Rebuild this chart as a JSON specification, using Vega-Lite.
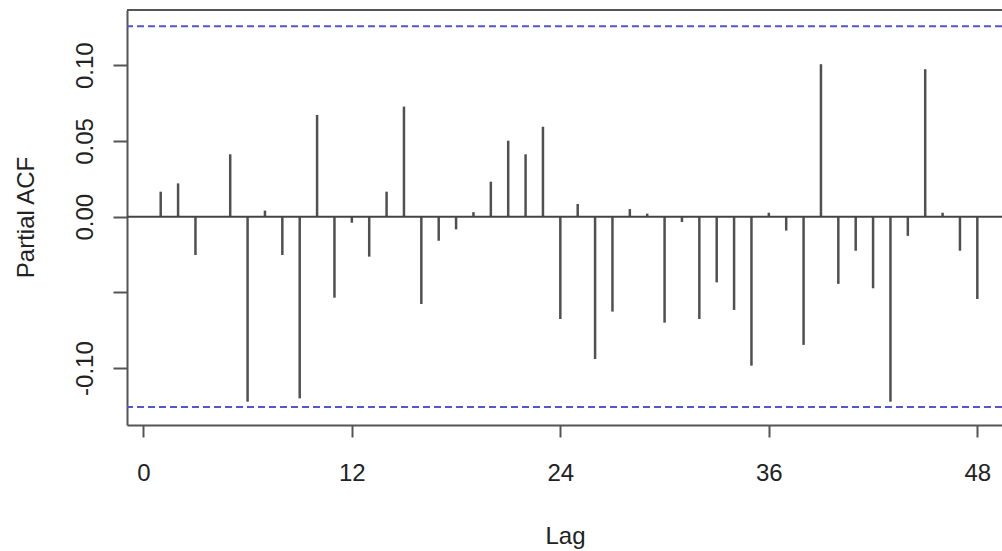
{
  "$schema": "https://vega.github.io/schema/vega-lite/v6.json",
  "width": 875,
  "height": 415,
  "autosize": "none",
  "padding": {"left": 127, "top": 10, "right": 0, "bottom": 126},
  "background": "white",
  "config": {
    "view": {"stroke": null},
    "axis": {
      "grid": false,
      "labelFont": "Liberation Sans",
      "titleFont": "Liberation Sans",
      "labelFontSize": 24,
      "titleFontSize": 24,
      "labelColor": "#222222",
      "titleColor": "#222222",
      "titleFontWeight": "normal",
      "domainColor": "#555555",
      "domainWidth": 2,
      "tickColor": "#555555",
      "tickWidth": 2,
      "labelFlush": false,
      "labelOverlap": false
    }
  },
  "datasets": {
    "pacf": [
      {"lag": 1, "pacf": 0.0165}, {"lag": 2, "pacf": 0.022}, {"lag": 3, "pacf": -0.0253},
      {"lag": 4, "pacf": 0.0}, {"lag": 5, "pacf": 0.0412}, {"lag": 6, "pacf": -0.1222},
      {"lag": 7, "pacf": 0.004}, {"lag": 8, "pacf": -0.0253}, {"lag": 9, "pacf": -0.12},
      {"lag": 10, "pacf": 0.0672}, {"lag": 11, "pacf": -0.0535}, {"lag": 12, "pacf": -0.004},
      {"lag": 13, "pacf": -0.0264}, {"lag": 14, "pacf": 0.0165}, {"lag": 15, "pacf": 0.0727},
      {"lag": 16, "pacf": -0.0577}, {"lag": 17, "pacf": -0.0159}, {"lag": 18, "pacf": -0.0084},
      {"lag": 19, "pacf": 0.003}, {"lag": 20, "pacf": 0.0231}, {"lag": 21, "pacf": 0.0502},
      {"lag": 22, "pacf": 0.0412}, {"lag": 23, "pacf": 0.0594}, {"lag": 24, "pacf": -0.0676},
      {"lag": 25, "pacf": 0.0084}, {"lag": 26, "pacf": -0.094}, {"lag": 27, "pacf": -0.0627},
      {"lag": 28, "pacf": 0.005}, {"lag": 29, "pacf": 0.002}, {"lag": 30, "pacf": -0.07},
      {"lag": 31, "pacf": -0.0035}, {"lag": 32, "pacf": -0.0676}, {"lag": 33, "pacf": -0.0434},
      {"lag": 34, "pacf": -0.0616}, {"lag": 35, "pacf": -0.0984}, {"lag": 36, "pacf": 0.0026},
      {"lag": 37, "pacf": -0.0092}, {"lag": 38, "pacf": -0.0847}, {"lag": 39, "pacf": 0.1007},
      {"lag": 40, "pacf": -0.0444}, {"lag": 41, "pacf": -0.0225}, {"lag": 42, "pacf": -0.0473},
      {"lag": 43, "pacf": -0.1222}, {"lag": 44, "pacf": -0.0127}, {"lag": 45, "pacf": 0.0974},
      {"lag": 46, "pacf": 0.0026}, {"lag": 47, "pacf": -0.0225}, {"lag": 48, "pacf": -0.0544}
    ],
    "ci": [{"ci": 0.1257}, {"ci": -0.1257}],
    "ref": [{"zero": 0, "top": 0.1365}]
  },
  "layer": [
    {
      "data": {"name": "pacf"},
      "mark": {"type": "rule", "color": "#505050", "strokeWidth": 2.5},
      "encoding": {
        "x": {
          "field": "lag",
          "type": "quantitative",
          "scale": {"domain": [-0.94, 49.42], "nice": false, "zero": false},
          "axis": {
            "title": "Lag",
            "values": [0, 12, 24, 36, 48],
            "tickSize": 12,
            "labelBaseline": "alphabetic",
            "labelPadding": 43,
            "titleBaseline": "alphabetic",
            "titleAlign": "center",
            "titleX": 438,
            "titleY": 118
          }
        },
        "y": {
          "field": "pacf",
          "type": "quantitative",
          "scale": {"domain": [-0.1376, 0.1365], "nice": false, "zero": false},
          "axis": {
            "title": "Partial ACF",
            "values": [-0.1, -0.05, 0, 0.05, 0.1],
            "tickSize": 14,
            "labelAngle": 270,
            "labelAlign": "center",
            "labelBaseline": "alphabetic",
            "labelPadding": 21,
            "labelExpr": "abs(datum.value + 0.05) < 0.001 ? '' : (datum.value < -0.0001 ? '-' : '') + format(abs(datum.value), '.2f')",
            "titleAngle": 270,
            "titleAlign": "center",
            "titleBaseline": "alphabetic",
            "titleX": -94,
            "titleY": 207
          }
        },
        "y2": {"datum": 0}
      }
    },
    {
      "data": {"name": "ref"},
      "mark": {"type": "rule", "color": "#444444", "strokeWidth": 2},
      "encoding": {"y": {"field": "zero", "type": "quantitative"}}
    },
    {
      "data": {"name": "ref"},
      "mark": {"type": "rule", "color": "#555555", "strokeWidth": 2},
      "encoding": {"y": {"field": "top", "type": "quantitative"}}
    },
    {
      "data": {"name": "ci"},
      "mark": {"type": "rule", "color": "#5555cc", "strokeWidth": 2, "strokeDash": [7, 4]},
      "encoding": {"y": {"field": "ci", "type": "quantitative"}}
    }
  ]
}
